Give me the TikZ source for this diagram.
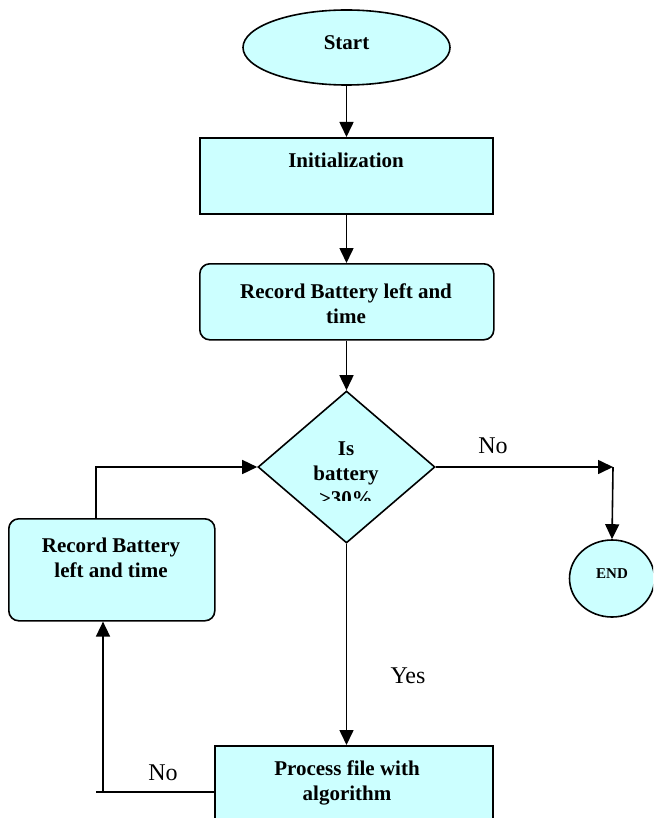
\documentclass[tikz,border=0pt]{standalone}
\usepackage{fontspec}
\setmainfont{Liberation Serif}
\usetikzlibrary{shapes.geometric,arrows.meta}
\definecolor{boxfill}{HTML}{CCFFFF}
\tikzset{
  box/.style={draw=black, line width=1.6pt, fill=boxfill, inner sep=0pt, anchor=north west},
  rbox/.style={box, rounded corners=10pt},
  oval/.style={draw=black, line width=1.6pt, fill=boxfill, ellipse, inner sep=0pt},
  decision/.style={draw=black, line width=1.6pt, fill=boxfill, diamond, inner sep=0pt},
  btxt/.style={font=\fontsize{21}{25}\selectfont\bfseries, anchor=base, inner sep=0pt},
  stxt/.style={font=\fontsize{15}{17}\selectfont\bfseries, anchor=base, inner sep=0pt},
  ltxt/.style={font=\fontsize{24}{28}\selectfont, anchor=base, inner sep=0pt},
  conn/.style={line width=1.6pt},
  arr/.style={conn, -{Triangle[length=15pt,width=14pt]}}
}
\begin{document}
\begin{tikzpicture}[x=1pt,y=-1pt]
\clip (0,0) rectangle (653,818);
\fill[white] (0,0) rectangle (653,818);

% shapes
\node[oval, minimum width=207pt, minimum height=75pt] (start) at (346.5,47.5) {};
\node[box, minimum width=293pt, minimum height=76pt] (init) at (199,137) {};
\node[rbox, minimum width=294pt, minimum height=76pt] (rec1) at (199,263) {};
\node[decision, minimum width=177pt, minimum height=152pt] (dec) at (346.5,467) {};
\node[rbox, minimum width=206pt, minimum height=102pt] (rec2) at (8,518) {};
\node[box, minimum width=278pt, minimum height=100pt] (proc) at (214,745) {};
\node[oval, minimum width=85pt, minimum height=77pt] (end) at (612,578.5) {};

% texts
\node[btxt] (tstart) at (346.5,50) {Start};
\node[btxt] (tinit) at (346,168) {Initialization};
\node[btxt] (trec1a) at (346,298) {Record Battery left and};
\node[btxt] (trec1b) at (346,323) {time};
\node[btxt] (tdeca) at (346,455) {Is};
\node[btxt] (tdecb) at (346,480) {battery};
\begin{scope}
\clip (280,485) rectangle (420,500.5);
\node[btxt] (tdecc) at (346,505) {>30\%};
\end{scope}
\node[btxt] (trec2a) at (111,552) {Record Battery};
\node[btxt] (trec2b) at (111,577) {left and time};
\node[btxt] (tproca) at (347,775) {Process file with};
\node[btxt] (tprocb) at (347,800) {algorithm};
\node[stxt] (tend) at (612,578) {END};
\node[ltxt] (lno1) at (493,453) {No};
\node[ltxt] (lyes) at (408,683) {Yes};
\node[ltxt] (lno2) at (163,780) {No};

% connector points
\coordinate (cor) at (613,467);
\coordinate (pl) at (214,792);
\coordinate (pend) at (96,792);
\coordinate (vb) at (103,792);
\coordinate (lt) at (96,518);

% connectors
\draw[arr] (start.south) -- (init.north -| start.south);
\draw[arr] (init.south -| start.south) -- (rec1.north -| start.south);
\draw[arr] (rec1.south -| start.south) -- (dec.north);
\draw[arr] (dec.east) -- (cor);
\draw[arr] (cor) -- (end.north);
\draw[arr] (dec.south) -- (dec.south |- proc.north);
\draw[conn] (pl) -- (pend);
\draw[arr] (vb) -- (vb |- rec2.south);
\draw[arr] (lt) |- (dec.west);
\end{tikzpicture}
\end{document}
